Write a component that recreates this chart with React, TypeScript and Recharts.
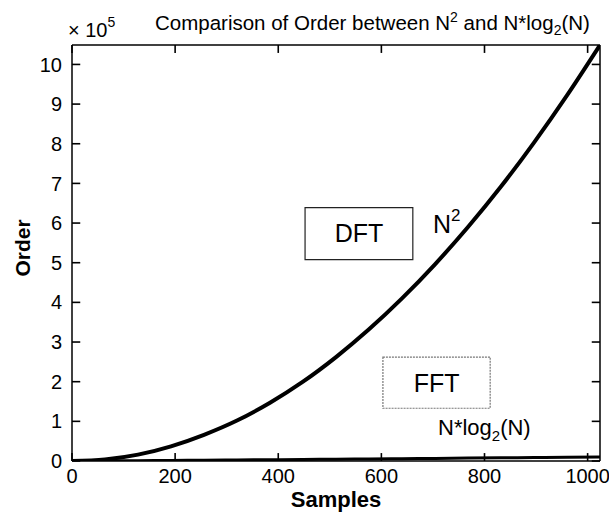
import React from 'react';
import {
  LineChart,
  Line,
  XAxis,
  YAxis,
  ReferenceArea,
  ReferenceLine,
} from 'recharts';

// samples (N) and order values, in units of 10^5
const samples = [0, 64, 128, 192, 256, 320, 384, 448, 512, 576, 640, 704, 768, 832, 896, 960, 1024];
const dftOrder = [0, 0.04, 0.16, 0.37, 0.66, 1.02, 1.47, 2.0, 2.62, 3.32, 4.1, 4.96, 5.9, 6.92, 8.03, 9.22, 10.49];
const fftOrder = [0, 0.004, 0.009, 0.015, 0.02, 0.026, 0.032, 0.038, 0.046, 0.052, 0.059, 0.066, 0.073, 0.08, 0.087, 0.094, 0.1];

const xTicks = [0, 200, 400, 600, 800, 1000];
const yTicks = [0, 1, 2, 3, 4, 5, 6, 7, 8, 9, 10];

const data = samples.map((n, i) => ({ n, dft: dftOrder[i], fft: fftOrder[i] }));

const FONT = '"Liberation Sans", Arial, Helvetica, sans-serif';

const W = 609;
const H = 515;
const LEFT = 72;
const RIGHT = 600;
const TOP = 45;
const BOTTOM = 461;

const X_MAX = 1024;
const Y_MAX = 10.49;
// inward tick length (~8px) expressed in axis units
const X_TICK = 16;
const Y_TICK = 0.2;

const BottomLabel = (props: any) => {
  const { x, payload } = props;
  return (
    <text x={x} y={BOTTOM + 8} dy="0.71em" textAnchor="middle" fontSize={20} fontFamily={FONT} fill="#000">
      {payload.value}
    </text>
  );
};

const LeftLabel = (props: any) => {
  const { y, payload } = props;
  return (
    <text x={LEFT - 10} y={y} dy="0.355em" textAnchor="end" fontSize={20} fontFamily={FONT} fill="#000">
      {payload.value}
    </text>
  );
};

const tickStroke = { stroke: '#000', strokeWidth: 1.6, ifOverflow: 'visible' as const };

const App: React.FC = () => {
  return (
    <div style={{ position: 'absolute', left: 0, top: 0, width: W, height: H, background: '#fff' }}>
      <LineChart width={W} height={H} data={data} margin={{ top: 0, right: 0, bottom: 0, left: 0 }}>
        <XAxis
          dataKey="n"
          type="number"
          domain={[0, X_MAX]}
          ticks={xTicks}
          height={H - BOTTOM}
          tickLine={false}
          tick={BottomLabel}
          stroke="#000"
          strokeWidth={1.5}
          allowDataOverflow
        />
        <YAxis
          type="number"
          domain={[0, Y_MAX]}
          ticks={yTicks}
          width={LEFT}
          tickLine={false}
          tick={LeftLabel}
          stroke="#000"
          strokeWidth={1.5}
          allowDataOverflow
        />
        <XAxis
          xAxisId="top"
          orientation="top"
          type="number"
          domain={[0, X_MAX]}
          ticks={xTicks}
          height={TOP}
          tick={false}
          tickLine={false}
          stroke="#000"
          strokeWidth={1.5}
          allowDataOverflow
        />
        <YAxis
          yAxisId="right"
          orientation="right"
          type="number"
          domain={[0, Y_MAX]}
          ticks={yTicks}
          width={W - RIGHT}
          tick={false}
          tickLine={false}
          stroke="#000"
          strokeWidth={1.5}
          allowDataOverflow
        />

        {/* MATLAB-style tick marks pointing into the box */}
        {xTicks.map((t) => (
          <ReferenceLine key={`xb-${t}`} segment={[{ x: t, y: 0 }, { x: t, y: Y_TICK }]} {...tickStroke} />
        ))}
        {xTicks.map((t) => (
          <ReferenceLine key={`xt-${t}`} segment={[{ x: t, y: Y_MAX }, { x: t, y: Y_MAX - Y_TICK }]} {...tickStroke} />
        ))}
        {yTicks.map((t) => (
          <ReferenceLine key={`yl-${t}`} segment={[{ x: 0, y: t }, { x: X_TICK, y: t }]} {...tickStroke} />
        ))}
        {yTicks.map((t) => (
          <ReferenceLine key={`yr-${t}`} segment={[{ x: X_MAX, y: t }, { x: X_MAX - X_TICK, y: t }]} {...tickStroke} />
        ))}

        <ReferenceArea
          x1={452}
          x2={661}
          y1={5.08}
          y2={6.39}
          fill="none"
          stroke="#222"
          strokeWidth={1.2}
          label={{ value: 'DFT', position: 'center', fontSize: 25, fill: '#000', fontFamily: FONT }}
        />
        <ReferenceArea
          x1={603}
          x2={811}
          y1={1.33}
          y2={2.62}
          fill="none"
          stroke="#777"
          strokeWidth={1.2}
          strokeDasharray="2 1"
          label={{ value: 'FFT', position: 'center', fontSize: 25, fill: '#000', fontFamily: FONT }}
        />
        <Line
          dataKey="dft"
          type="monotone"
          stroke="#000"
          strokeWidth={4}
          dot={false}
          isAnimationActive={false}
        />
        <Line
          dataKey="fft"
          type="monotone"
          stroke="#000"
          strokeWidth={3}
          dot={false}
          isAnimationActive={false}
        />
      </LineChart>

      <svg
        width={W}
        height={H}
        style={{ position: 'absolute', left: 0, top: 0, pointerEvents: 'none' }}
        fontFamily={FONT}
      >
        <text x={68} y={37} fontSize={20}>
          × 10<tspan fontSize={14} dy={-10}>5</tspan>
        </text>
        <text x={155} y={30} fontSize={20.5}>
          Comparison of Order between N<tspan fontSize={14} dy={-8}>2</tspan>
          <tspan dy={8}> and N*log</tspan>
          <tspan fontSize={14} dy={5}>2</tspan>
          <tspan dy={-5}>(N)</tspan>
        </text>
        <text x={30} y={248} fontSize={21} fontWeight="bold" textAnchor="middle" transform="rotate(-90 30 248)">
          Order
        </text>
        <text x={336} y={507} fontSize={22} fontWeight="bold" textAnchor="middle">
          Samples
        </text>
        <text x={433} y={233} fontSize={25}>
          N<tspan fontSize={17} dy={-12}>2</tspan>
        </text>
        <text x={438} y={435} fontSize={22}>
          N*log<tspan fontSize={15} dy={6}>2</tspan>
          <tspan dy={-6}>(N)</tspan>
        </text>
      </svg>
    </div>
  );
};

export default App;
